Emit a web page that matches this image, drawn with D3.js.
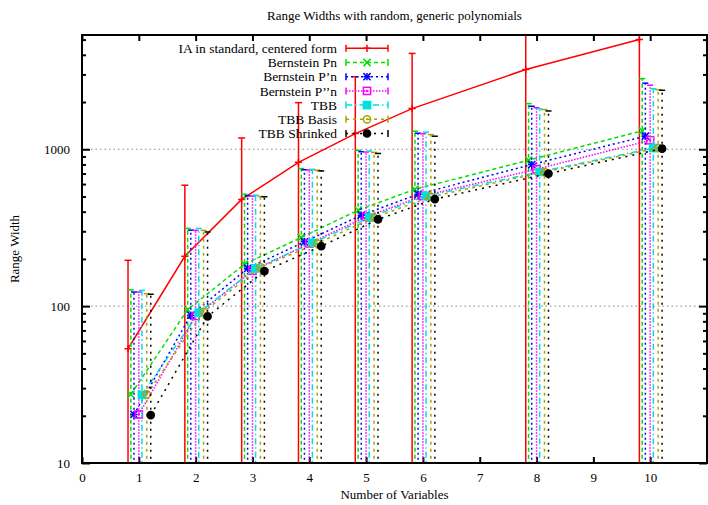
<!DOCTYPE html>
<html><head><meta charset="utf-8">
<script src="https://cdn.jsdelivr.net/npm/d3@7/dist/d3.min.js"></script>
<style>
body{margin:0;background:#fff;}
svg text{font-family:"Liberation Serif","DejaVu Serif",serif;fill:#000;}
</style></head>
<body><svg id="chart" width="708" height="505"></svg>
<script>
// ---- data ----
const xValues = [1, 2, 3, 4, 5, 6, 8, 10];
const seriesNames = ["IA in standard, centered form", "Bernstein Pn", "Bernstein P\u2019n", "Bernstein P\u2019\u2019n", "TBB", "TBB Basis", "TBB Shrinked"];
const xOffsets = [-0.19, -0.14, -0.085, 0, 0.055, 0.14, 0.21];
const iaValues = [53.5, 208, 479, 826, 1259, 1816, 3222, 5013];
const iaHigh = [196, 590, 1180, 1982, 2900, 4083, 9000, 14000];
const pnValues = [27.4, 95, 185, 274, 409, 556, 851, 1309];
const pnHigh = [127, 313, 517, 753, 985, 1303, 1954, 2820];
const p1Values = [20.4, 87.5, 174, 257, 380, 517, 799, 1211];
const p1High = [123, 305, 505, 740, 965, 1265, 1880, 2640];
const p2Values = [20.4, 86.5, 168, 251, 371, 504, 746, 1141];
const p2High = [123, 304, 503, 738, 960, 1255, 1840, 2560];
const tbbValues = [27.2, 91, 174, 253, 367, 504, 717, 1018];
const tbbHigh = [126, 313, 510, 745, 975, 1285, 1810, 2430];
const basisValues = [27.4, 92, 176.6, 251, 367, 497, 717, 1018];
const basisHigh = [120, 304, 500, 735, 955, 1240, 1790, 2400];
const shrinkValues = [20.2, 86, 167, 241, 357, 481, 700, 1009];
const shrinkHigh = [119, 297, 498, 728, 940, 1211, 1754, 2377];
const lowBound = [1, 1, 1, 1, 1, 1, 1, 1];
const xTickValues = [0, 1, 2, 3, 4, 5, 6, 7, 8, 9, 10];
const yMajorTicks = [10, 100, 1000];
const yMinorTicks = [20,30,40,50,60,70,80,90,200,300,400,500,600,700,800,900,2000,3000,4000,5000];

// ---- styles ----
const styles = [
  {color:"#ff0000", dash:null, marker:"plus", cap:7},
  {color:"#00e000", dash:"4,3", marker:"cross", cap:6},
  {color:"#0000ff", dash:"2,3", marker:"star", cap:6},
  {color:"#ff00ff", dash:"1.5,1.5", marker:"sqOpen", cap:6},
  {color:"#00e0e0", dash:"6,3,1.5,3", marker:"sqFill", cap:6},
  {color:"#b0a000", dash:"3,4", marker:"circOpen", cap:6},
  {color:"#000000", dash:"2,5", marker:"circFill", cap:6}
];
const seriesVals = [iaValues, pnValues, p1Values, p2Values, tbbValues, basisValues, shrinkValues];
const seriesHigh = [iaHigh, pnHigh, p1High, p2High, tbbHigh, basisHigh, shrinkHigh];

const L = 82, R = 707, T = 35, B = 463;
const x = d3.scaleLinear().domain([0, 11]).range([L, R]);
const y = d3.scaleLog().domain([10, 5350]).range([B, T]);

const svg = d3.select("#chart");
svg.append("defs").append("clipPath").attr("id","clip")
  .append("rect").attr("x",L).attr("y",T).attr("width",R-L).attr("height",B-T);

// grid
svg.append("g").selectAll("line").data([100, 1000]).join("line")
  .attr("x1",L).attr("x2",R).attr("y1",d=>y(d)).attr("y2",d=>y(d))
  .attr("stroke","#888").attr("stroke-width",1).attr("stroke-dasharray","1.5,3");

// axes ticks
const axG = svg.append("g");
const xb = d3.axisBottom(x).tickValues(xTickValues).tickSize(-6).tickPadding(10).tickFormat(d3.format("d"));
const xt = d3.axisTop(x).tickValues(xTickValues).tickSize(-6).tickFormat("");
const yl = d3.axisLeft(y).tickValues(yMajorTicks).tickSize(-8).tickPadding(12).tickFormat(d3.format("d"));
const ylm = d3.axisLeft(y).tickValues(yMinorTicks).tickSize(-4).tickFormat("");
const yr = d3.axisRight(y).tickValues(yMajorTicks).tickSize(-8).tickFormat("");
const yrm = d3.axisRight(y).tickValues(yMinorTicks).tickSize(-4).tickFormat("");
[[xb,`translate(0,${B})`],[xt,`translate(0,${T})`],[yl,`translate(${L},0)`],[ylm,`translate(${L},0)`],[yr,`translate(${R},0)`],[yrm,`translate(${R},0)`]].forEach(([a,t])=>{
  const g = axG.append("g").attr("transform",t).call(a);
  g.select(".domain").remove();
  g.selectAll("line").attr("stroke","#000").attr("stroke-width",2);
  g.selectAll("text").attr("font-size","13px").attr("font-family","Liberation Serif, serif");
});

// markers
function drawMarker(g, type, cx, cy, color){
  const s = 3.6;
  if(type==="plus"||type==="star"){
    g.append("path").attr("d",`M${cx-s},${cy}H${cx+s}M${cx},${cy-s}V${cy+s}`).attr("stroke",color).attr("stroke-width",1.5).attr("fill","none");
  }
  if(type==="cross"||type==="star"){
    g.append("path").attr("d",`M${cx-s},${cy-s}L${cx+s},${cy+s}M${cx-s},${cy+s}L${cx+s},${cy-s}`).attr("stroke",color).attr("stroke-width",1.5).attr("fill","none");
  }
  if(type==="sqOpen"||type==="sqFill"){
    g.append("rect").attr("x",cx-s).attr("y",cy-s).attr("width",2*s).attr("height",2*s)
      .attr("fill",type==="sqFill"?color:"none").attr("stroke",color).attr("stroke-width",1.5);
    if(type==="sqOpen") g.append("rect").attr("x",cx-1).attr("y",cy-1).attr("width",2).attr("height",2).attr("fill",color);
  }
  if(type==="circOpen"||type==="circFill"){
    g.append("circle").attr("cx",cx).attr("cy",cy).attr("r",s)
      .attr("fill",type==="circFill"?color:"none").attr("stroke",color).attr("stroke-width",1.5);
    if(type==="circOpen") g.append("circle").attr("cx",cx).attr("cy",cy).attr("r",1).attr("fill",color);
  }
}

const plot = svg.append("g").attr("clip-path","url(#clip)");
seriesVals.forEach((vals, si)=>{
  const st = styles[si];
  const g = plot.append("g");
  const pts = xValues.map((xv,i)=>({x:xv+xOffsets[si], v:vals[i], hi:seriesHigh[si][i], lo:lowBound[i]}));
  const lw = 1.5;
  // error bars
  pts.forEach(p=>{
    const px = x(p.x);
    g.append("line").attr("x1",px).attr("x2",px).attr("y1",y(Math.max(p.lo,1))).attr("y2",y(p.hi))
      .attr("stroke",st.color).attr("stroke-width",lw).attr("stroke-dasharray",st.dash);
    g.append("line").attr("x1",px-st.cap/2).attr("x2",px+st.cap/2).attr("y1",y(p.hi)).attr("y2",y(p.hi))
      .attr("stroke",st.color).attr("stroke-width",lw);
  });
  // line
  g.append("path").datum(pts).attr("d", d3.line().x(p=>x(p.x)).y(p=>y(p.v)))
    .attr("fill","none").attr("stroke",st.color).attr("stroke-width",lw).attr("stroke-dasharray",st.dash);
  pts.forEach(p=>drawMarker(g, st.marker, x(p.x), y(p.v), st.color));
});

// border
svg.append("rect").attr("x",L).attr("y",T).attr("width",R-L).attr("height",B-T)
  .attr("fill","none").attr("stroke","#000").attr("stroke-width",2);

// legend
const leg = svg.append("g");
seriesNames.forEach((name, i)=>{
  const st = styles[i];
  const ly = 48.3 + i*14.2;
  leg.append("text").attr("x",337).attr("y",ly).attr("dy","0.35em").attr("text-anchor","end")
    .attr("font-size","13.5px").text(name);
  const x1 = 346, x2 = 388;
  leg.append("line").attr("x1",x1).attr("x2",x2).attr("y1",ly).attr("y2",ly)
    .attr("stroke",st.color).attr("stroke-width",1.5).attr("stroke-dasharray",st.dash);
  [x1,x2].forEach(xx=>leg.append("line").attr("x1",xx).attr("x2",xx).attr("y1",ly-3.5).attr("y2",ly+3.5)
    .attr("stroke",st.color).attr("stroke-width",1.5));
  drawMarker(leg, st.marker, (x1+x2)/2, ly, st.color);
});

// titles
svg.append("text").attr("x",(L+R)/2).attr("y",19.5).attr("text-anchor","middle").attr("font-size","13px")
  .text("Range Widths with random, generic polynomials");
svg.append("text").attr("x",(L+R)/2).attr("y",499).attr("text-anchor","middle").attr("font-size","13px")
  .text("Number of Variables");
svg.append("text").attr("transform",`translate(19,249) rotate(-90)`).attr("text-anchor","middle").attr("font-size","13px")
  .text("Range Width");
</script></body></html>
